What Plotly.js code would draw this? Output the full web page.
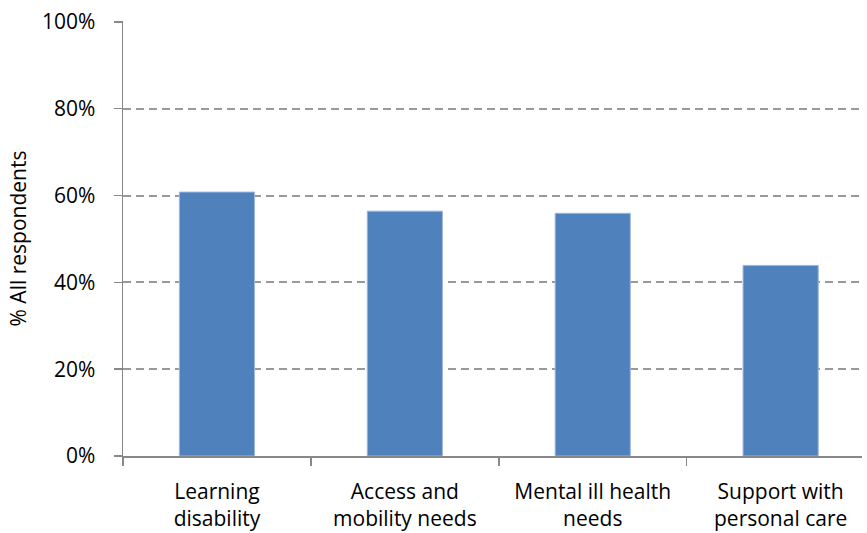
<!DOCTYPE html>
<html>
<head>
<meta charset="utf-8">
<script src="https://cdn.plot.ly/plotly-3.0.1.min.js"></script>
<style>html,body{margin:0;padding:0;background:#fff;}#chart{width:867px;height:533px;}</style>
</head>
<body>
<div id="chart"></div>
<script>
const categories = ["Learning<br>disability", "Access and<br>mobility needs", "Mental ill health<br>needs", "Support with<br>personal care"];
const values = [60.8, 56.4, 55.9, 43.9];
const yTicks = [0, 20, 40, 60, 80, 100];
const yTickLabels = ["0%", "20%", "40%", "60%", "80%", "100%"];

const font = "'Open Sans', sans-serif";
const fs = 21;

const trace = {
  type: "bar",
  x: categories,
  y: values,
  width: 0.4,
  marker: {color: "#4F81BD", line: {color: "#9DB7DD", width: 1}},
  hoverinfo: "none"
};

const layout = {
  width: 867, height: 533,
  margin: {l: 123, r: 5, t: 21, b: 77},
  paper_bgcolor: "#fff", plot_bgcolor: "#fff",
  showlegend: false,
  font: {family: font, size: fs, color: "#000"},
  xaxis: {
    type: "category",
    range: [-0.5, 3.433],
    showline: true, linecolor: "#888", linewidth: 1.5,
    ticks: "outside", tickson: "boundaries", ticklen: 8, tickcolor: "#888", tickwidth: 1.5,
    showgrid: false, zeroline: false,
    tickfont: {family: font, size: fs, color: "#000"},
    ticklabelstandoff: 16
  },
  yaxis: {
    range: [0, 100.2],
    tickvals: yTicks, ticktext: yTickLabels,
    showline: true, linecolor: "#888", linewidth: 1.5,
    ticks: "outside", ticklen: 8, tickcolor: "#888", tickwidth: 1.5,
    showgrid: true, gridcolor: "#999", gridwidth: 2, griddash: "8px,5px",
    zeroline: false,
    tickfont: {family: font, size: fs, color: "#000"},
    ticklabelstandoff: 14,
    title: {text: "% All respondents", font: {family: font, size: fs, color: "#000"}, standoff: 9}
  }
};

Plotly.newPlot("chart", [trace], layout, {staticPlot: true, displayModeBar: false});
</script>
</body>
</html>
